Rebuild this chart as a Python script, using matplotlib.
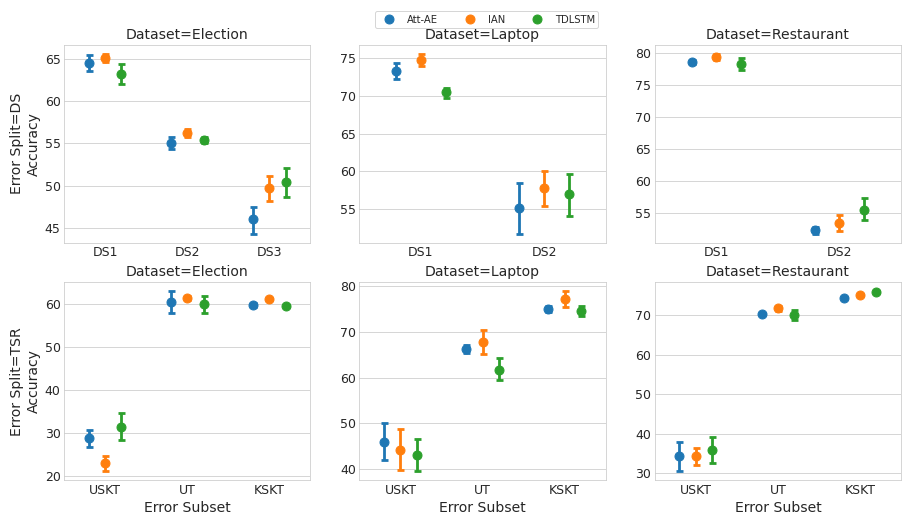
import numpy as np
import matplotlib
matplotlib.use("Agg")
import matplotlib.pyplot as plt
import seaborn as sns

# --- Data ---
models = ["Att-AE", "IAN", "TDLSTM"]
datasets = ["Election", "Laptop", "Restaurant"]
colors = ["#1f77b4", "#ff7f0e", "#2ca02c"]

ds_subsets = {
    "Election": ["DS1", "DS2", "DS3"],
    "Laptop": ["DS1", "DS2"],
    "Restaurant": ["DS1", "DS2"],
}
tsr_subsets = ["USKT", "UT", "KSKT"]

# mean, lower CI, upper CI per model (rows) and subset (cols)
ds_mean = {
    "Election": [[64.5, 55.1, 46.0], [65.1, 56.2, 49.7], [63.2, 55.4, 50.4]],
    "Laptop": [[73.3, 55.1], [74.8, 57.8], [70.5, 57.0]],
    "Restaurant": [[78.7, 52.3], [79.4, 53.4], [78.3, 55.5]],
}
ds_lo = {
    "Election": [[63.6, 54.3, 44.3], [64.6, 55.8, 48.2], [62.0, 55.0, 48.7]],
    "Laptop": [[72.3, 51.7], [74.0, 55.4], [69.8, 54.1]],
    "Restaurant": [[78.4, 51.7], [78.9, 52.2], [77.4, 53.8]],
}
ds_hi = {
    "Election": [[65.5, 55.8, 47.5], [65.6, 56.7, 51.1], [64.4, 55.8, 52.1]],
    "Laptop": [[74.4, 58.5], [75.6, 60.1], [71.1, 59.7]],
    "Restaurant": [[79.0, 52.8], [79.9, 54.7], [79.2, 57.3]],
}

tsr_mean = {
    "Election": [[28.8, 60.5, 59.8], [23.0, 61.5, 61.2], [31.4, 60.0, 59.6]],
    "Laptop": [[46.0, 66.3, 75.0], [44.3, 67.8, 77.1], [43.1, 61.7, 74.5]],
    "Restaurant": [[34.3, 70.4, 74.4], [34.3, 71.8, 75.1], [35.8, 70.0, 75.9]],
}
tsr_lo = {
    "Election": [[26.8, 57.9, 59.3], [21.2, 61.0, 61.0], [28.3, 57.9, 59.4]],
    "Laptop": [[42.1, 65.5, 74.4], [39.9, 65.2, 75.5], [39.6, 59.4, 73.6]],
    "Restaurant": [[30.5, 70.1, 74.2], [32.1, 71.2, 74.9], [32.5, 68.8, 75.7]],
}
tsr_hi = {
    "Election": [[30.7, 63.0, 60.3], [24.8, 62.0, 61.4], [34.6, 61.9, 59.8]],
    "Laptop": [[50.0, 67.1, 75.7], [48.8, 70.4, 78.9], [46.6, 64.3, 75.7]],
    "Restaurant": [[37.9, 70.7, 74.6], [36.4, 72.4, 75.3], [39.2, 71.4, 76.1]],
}

# --- Plotting ---
sns.set_style("whitegrid")
plt.rcParams["font.family"] = ["DejaVu Sans"]
plt.rcParams["axes.edgecolor"] = "#cccccc"

fig, axes = plt.subplots(2, 3, figsize=(907 / 72, 525 / 72), dpi=72)
fig.subplots_adjust(left=0.0706, right=0.9934, top=0.9143, bottom=0.0857,
                    wspace=0.2, hspace=0.2)

offsets = [-0.2, 0.0, 0.2]
txt = "#262626"


def draw(ax, cats, mean, lo, hi):
    x = np.arange(len(cats))
    for i, m in enumerate(models):
        mu = np.array(mean[i])
        err = np.vstack([mu - np.array(lo[i]), np.array(hi[i]) - mu])
        ax.errorbar(x + offsets[i], mu, yerr=err, fmt="o", color=colors[i],
                    markersize=9, elinewidth=2.8, capsize=3.5, capthick=2.8,
                    label=m)
    ax.set_xticks(x)
    ax.set_xticklabels(cats)
    ax.set_xlim(-0.5, len(cats) - 0.5)
    ax.grid(axis="x", visible=False)
    ax.tick_params(axis="both", labelsize=12.5, colors=txt, length=0)


for j, d in enumerate(datasets):
    ax = axes[0, j]
    draw(ax, ds_subsets[d], ds_mean[d], ds_lo[d], ds_hi[d])
    ax.set_title(f"Dataset={d}", fontsize=14, color=txt)

    ax = axes[1, j]
    draw(ax, tsr_subsets, tsr_mean[d], tsr_lo[d], tsr_hi[d])
    ax.set_title(f"Dataset={d}", fontsize=14, color=txt)
    ax.set_xlabel("Error Subset", fontsize=14, color=txt)

axes[0, 0].set_ylabel("Error Split=DS\nAccuracy", fontsize=14, color=txt)
axes[1, 0].set_ylabel("Error Split=TSR\nAccuracy", fontsize=14, color=txt)

handles = [plt.Line2D([], [], marker="o", linestyle="", color=c, markersize=9)
           for c in colors]
fig.legend(handles, models, loc="upper center", bbox_to_anchor=(0.5366, 0.988),
           ncol=3, fontsize=10, frameon=True, columnspacing=2.2,
           handletextpad=0.8, borderpad=0.35)

fig.savefig("out.png", dpi=72)
